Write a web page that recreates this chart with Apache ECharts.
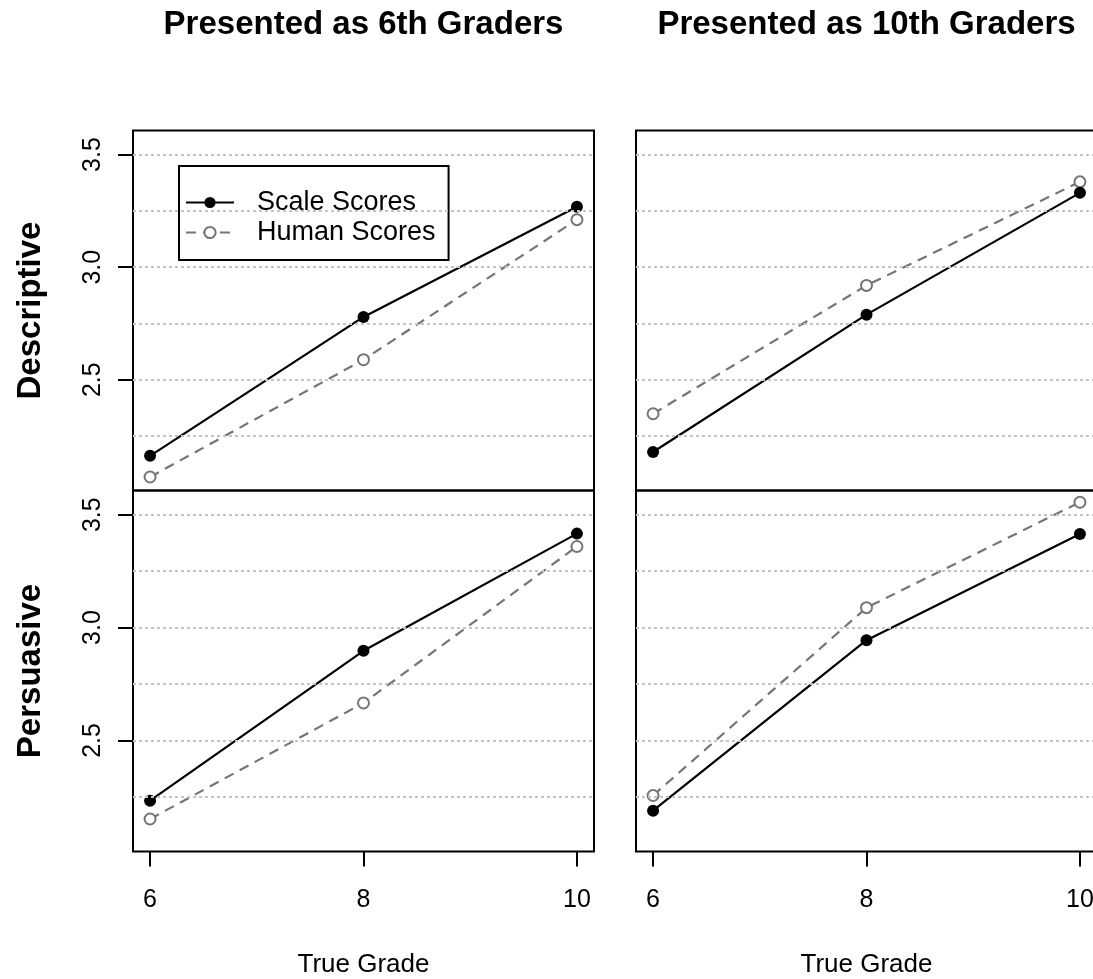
<!DOCTYPE html>
<html><head><meta charset="utf-8">
<script src="https://cdn.jsdelivr.net/npm/echarts@6/dist/echarts.min.js"></script>
<style>html,body{margin:0;padding:0;background:#fff}#c{width:1093px;height:979px}</style>
</head><body><div id="c"></div>
<script>
const grades = [6, 8, 10];
const columnTitles = ['Presented as 6th Graders', 'Presented as 10th Graders'];
const rowTitles = ['Descriptive', 'Persuasive'];
const seriesNames = ['Scale Scores', 'Human Scores'];
const scaleDesc6 = [2.162, 2.779, 3.268];
const humanDesc6 = [2.068, 2.589, 3.211];
const scaleDesc10 = [2.179, 2.789, 3.330];
const humanDesc10 = [2.349, 2.919, 3.379];
const scalePers6 = [2.233, 2.897, 3.416];
const humanPers6 = [2.152, 2.666, 3.359];
const scalePers10 = [2.189, 2.944, 3.414];
const humanPers10 = [2.256, 3.088, 3.555];
const xTicks = [6, 8, 10];
const yTicks = [2.5, 3.0, 3.5];
const gridValues = [2.25, 2.5, 2.75, 3.0, 3.25, 3.5];
const xLabel = 'True Grade';

const FONT = "'Liberation Sans', Arial, sans-serif";
const panels = [
  {row: 0, col: 0, scale: scaleDesc6, human: humanDesc6},
  {row: 0, col: 1, scale: scaleDesc10, human: humanDesc10},
  {row: 1, col: 0, scale: scalePers6, human: humanPers6},
  {row: 1, col: 1, scale: scalePers10, human: humanPers10}
];
const colLeft = [133, 636], colW = 461;
const rowTop = [130.5, 490.5], rowH = [360, 361];

const grid = [], xAxis = [], yAxis = [], series = [];
panels.forEach((p, i) => {
  grid.push({left: colLeft[p.col], top: rowTop[p.row], width: colW, height: rowH[p.row],
    show: true, borderColor: '#000', borderWidth: 2, backgroundColor: 'transparent',
    containLabel: false, outerBoundsMode: 'none'});
  const bottom = p.row === 1;
  xAxis.push({type: 'value', gridIndex: i, min: 5.84, max: 10.16,
    axisLine: {show: false}, splitLine: {show: false},
    axisTick: {show: bottom, customValues: xTicks, length: 15, lineStyle: {color: '#000', width: 2}},
    axisLabel: {show: bottom, customValues: xTicks, fontSize: 25, color: '#000', margin: 36, fontFamily: FONT},
    name: bottom ? xLabel : '', nameLocation: 'middle', nameGap: 100,
    nameTextStyle: {fontSize: 26, color: '#000', fontFamily: FONT}});
  const left = p.col === 0;
  yAxis.push({type: 'value', gridIndex: i, min: 2.008, max: 3.607,
    axisLine: {show: false}, splitLine: {show: false},
    axisTick: {show: left, customValues: yTicks, length: 15, lineStyle: {color: '#000', width: 2}},
    axisLabel: {show: left, customValues: yTicks, rotate: 90, fontSize: 25, color: '#000', margin: 27,
      fontFamily: FONT, formatter: v => Number(v).toFixed(1)}});
  series.push({type: 'line', xAxisIndex: i, yAxisIndex: i, data: [], silent: true, z: 1,
    markLine: {silent: true, symbol: 'none', label: {show: false}, animation: false,
      lineStyle: {color: '#c4c4c4', type: [3, 3], width: 2},
      data: gridValues.map(v => ({yAxis: v}))}});
  series.push({name: seriesNames[1], type: 'line', xAxisIndex: i, yAxisIndex: i, z: 3,
    data: grades.map((g, k) => [g, p.human[k]]),
    symbol: 'emptyCircle', symbolSize: 11,
    lineStyle: {color: '#757575', width: 2.2, type: [10, 7]},
    itemStyle: {color: '#757575', borderWidth: 1.8}});
  series.push({name: seriesNames[0], type: 'line', xAxisIndex: i, yAxisIndex: i, z: 4,
    data: grades.map((g, k) => [g, p.scale[k]]),
    symbol: 'circle', symbolSize: 12,
    lineStyle: {color: '#000', width: 2.2},
    itemStyle: {color: '#000'}});
});

const graphic = [];
columnTitles.forEach((t, c) => graphic.push({type: 'text', x: colLeft[c] + colW / 2, y: 25,
  style: {text: t, font: "bold 33px " + FONT, fill: '#000', textAlign: 'center', textVerticalAlign: 'middle'}}));
rowTitles.forEach((t, r) => graphic.push({type: 'text', x: 31, y: rowTop[r] + rowH[r] / 2, rotation: Math.PI / 2,
  style: {text: t, font: "bold 33px " + FONT, fill: '#000', textAlign: 'center', textVerticalAlign: 'middle'}}));

const chart = echarts.init(document.getElementById('c'));
chart.setOption({
  animation: false,
  textStyle: {fontFamily: FONT},
  grid, xAxis, yAxis, series, graphic,
  legend: {data: [seriesNames[0], seriesNames[1]], orient: 'vertical', left: 179, top: 166,
    padding: [23, 13, 14, 6], itemGap: 3, itemWidth: 48, itemHeight: 14,
    borderColor: '#000', borderWidth: 2, selectedMode: false,
    textStyle: {fontSize: 27, color: '#000', lineHeight: 27, padding: [0, 0, 0, 18], fontFamily: FONT}}
});
</script></body></html>
